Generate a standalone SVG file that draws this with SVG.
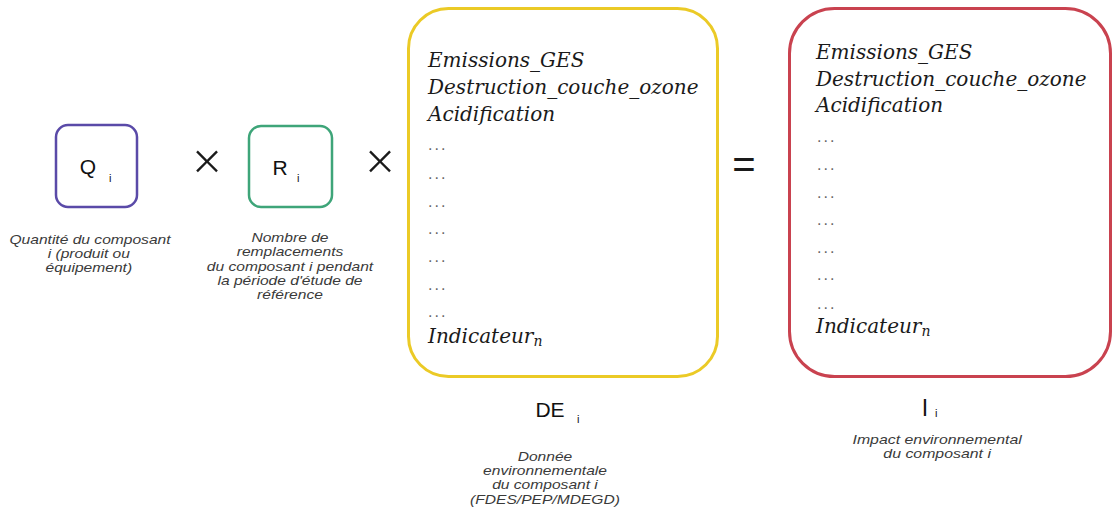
<svg xmlns="http://www.w3.org/2000/svg" width="1114" height="515" viewBox="0 0 1114 515">
<style>
.lbl{font-family:"Liberation Sans",Arial,sans-serif;fill:#111}
.sub{font-family:"Liberation Sans",Arial,sans-serif;fill:#111;font-size:11px}
.cap{font-family:"Liberation Sans",Arial,sans-serif;font-style:italic;font-size:13px;fill:#3a3a3a;text-anchor:middle}
.ind{font-family:"DejaVu Serif",serif;font-style:italic;font-size:20px;fill:#1a1a1a}
.dots{font-family:"Liberation Sans",Arial,sans-serif;font-size:16px;fill:#666;letter-spacing:2px}
.op{font-family:"Noto Sans","Liberation Sans",sans-serif;font-weight:300;fill:#1a1a1a;text-anchor:middle}
</style>
<rect width="1114" height="515" fill="#ffffff"/>
<g id="node-Q">
<rect x="56" y="125" width="81" height="82" rx="12" fill="none" stroke="#5a4aa8" stroke-width="2.5"/>
<text class="lbl" x="88" y="174" font-size="21" text-anchor="middle">Q</text>
<text class="sub" x="109" y="182">i</text>
<g transform="matrix(1.2 0 0 1 -18 0)">
<text class="cap" x="90" y="244">Quantité du composant</text>
<text class="cap" x="89" y="258">i (produit ou</text>
<text class="cap" x="89" y="272">équipement)</text>
</g>
</g>
<g id="node-R">
<rect x="249" y="126" width="83" height="81" rx="12" fill="none" stroke="#3ea579" stroke-width="2.5"/>
<text class="lbl" x="280" y="175" font-size="21" text-anchor="middle">R</text>
<text class="sub" x="297" y="182">i</text>
<g transform="matrix(1.2 0 0 1 -58 0)">
<text class="cap" x="290" y="242">Nombre de</text>
<text class="cap" x="290" y="256">remplacements</text>
<text class="cap" x="290" y="271">du composant i pendant</text>
<text class="cap" x="290" y="285">la période d'étude de</text>
<text class="cap" x="290" y="299">référence</text>
</g>
</g>
<g id="node-DE">
<rect x="408.5" y="8.5" width="309" height="368" rx="40" fill="none" stroke="#ebca26" stroke-width="3"/>
<text class="ind" x="428" y="67">Emissions_GES</text>
<text class="ind" x="428" y="94">Destruction_couche_ozone</text>
<text class="ind" x="428" y="121">Acidification</text>
<text class="dots" x="428" y="150">...</text>
<text class="dots" x="428" y="179">...</text>
<text class="dots" x="428" y="207">...</text>
<text class="dots" x="428" y="234">...</text>
<text class="dots" x="428" y="262">...</text>
<text class="dots" x="428" y="290">...</text>
<text class="dots" x="428" y="317">...</text>
<text class="ind" x="428" y="343">Indicateur<tspan font-size="14" dy="3">n</tspan></text>
<text class="lbl" x="550" y="417" font-size="21" text-anchor="middle">DE</text>
<text class="sub" x="577" y="423">i</text>
<g transform="matrix(1.2 0 0 1 -109 0)">
<text class="cap" x="545" y="461">Donnée</text>
<text class="cap" x="545" y="475">environnementale</text>
<text class="cap" x="545" y="489">du composant i</text>
<text class="cap" x="545" y="504">(FDES/PEP/MDEGD)</text>
</g>
</g>
<g id="node-I">
<rect x="789.5" y="8.5" width="321" height="368" rx="45" fill="none" stroke="#c9424f" stroke-width="3"/>
<text class="ind" x="816" y="59">Emissions_GES</text>
<text class="ind" x="816" y="86">Destruction_couche_ozone</text>
<text class="ind" x="816" y="112">Acidification</text>
<text class="dots" x="817" y="142">...</text>
<text class="dots" x="817" y="170">...</text>
<text class="dots" x="817" y="198">...</text>
<text class="dots" x="817" y="225">...</text>
<text class="dots" x="817" y="253">...</text>
<text class="dots" x="817" y="280">...</text>
<text class="dots" x="817" y="309">...</text>
<text class="ind" x="816" y="333">Indicateur<tspan font-size="14" dy="3">n</tspan></text>
<text class="lbl" x="925" y="416" font-size="23" text-anchor="middle">I</text>
<text class="sub" x="935" y="417">i</text>
<g transform="matrix(1.22 0 0 1 -206 0)">
<text class="cap" x="937" y="444">Impact environnemental</text>
<text class="cap" x="937" y="458">du composant i</text>
</g>
</g>
<g id="connectors">
<text class="op" x="207" y="179" font-size="50">×</text>
<text class="op" x="380" y="179" font-size="50">×</text>
<text class="op" x="744" y="178" font-size="40" font-weight="bold" style="font-family:'Liberation Sans',sans-serif">=</text>
</g>
</svg>
